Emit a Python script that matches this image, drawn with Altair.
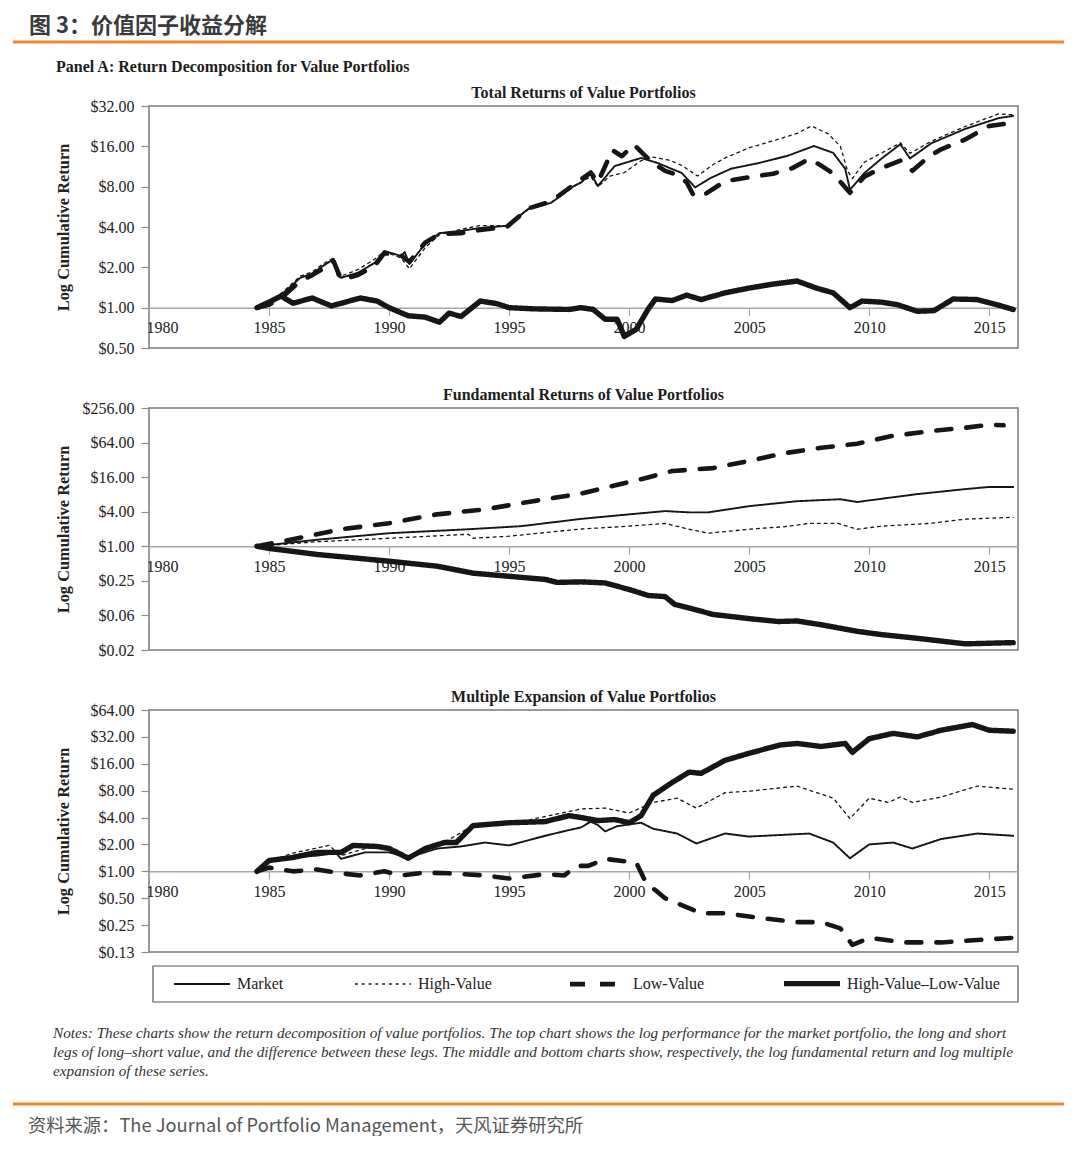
import math
import altair as alt
import pandas as pd

SERIF = "Liberation Serif"
CJK = "Noto Sans CJK SC"
ORANGE = "#EE8A2E"
INK = "#161616"

SERIES = ["Market", "High-Value", "Low-Value", "High-Value–Low-Value"]
DASHES = [[1, 0], [2.8, 4.0], [15, 15], [1, 0]]
WIDTHS = [1.9, 1.3, 4.6, 5.4]
YEAR_TICKS = [1980, 1985, 1990, 1995, 2000, 2005, 2010, 2015]

HEADER = "图 3：价值因子收益分解"
PANEL_LABEL = "Panel A: Return Decomposition for Value Portfolios"
PANEL_TITLES = ["Total Returns of Value Portfolios",
                "Fundamental Returns of Value Portfolios",
                "Multiple Expansion of Value Portfolios"]
NOTES = ["Notes: These charts show the return decomposition of value portfolios. The top chart shows the log performance for the market portfolio, the long and short",
         "legs of long–short value, and the difference between these legs. The middle and bottom charts show, respectively, the log fundamental return and log multiple",
         "expansion of these series."]
SOURCE = "资料来源：The Journal of Portfolio Management，天风证券研究所"

TOTAL_TICKS = [0.5, 1, 2, 4, 8, 16, 32]
FUND_TICKS = [1 / 64, 1 / 16, 0.25, 1, 4, 16, 64, 256]
MULT_TICKS = [0.125, 0.25, 0.5, 1, 2, 4, 8, 16, 32, 64]

# ---- Total returns (year, cumulative value) ----
total_market = [(1984.5, 1.00), (1985.0, 1.08), (1985.6, 1.29), (1986.3, 1.67), (1986.8, 1.80), (1987.25, 2.05),
                (1987.7, 2.31), (1987.85, 1.75), (1988.0, 1.67), (1988.7, 1.82), (1989.4, 2.16), (1989.8, 2.65),
                (1990.5, 2.43), (1990.65, 2.60), (1990.85, 2.12), (1991.5, 2.99), (1992.1, 3.60), (1993.0, 3.74),
                (1993.8, 3.94), (1994.9, 4.08), (1995.8, 5.46), (1996.75, 6.06), (1997.7, 8.10), (1998.0, 8.60),
                (1998.4, 10.0), (1998.7, 8.10), (1999.4, 11.4), (2000.5, 13.1), (2001.2, 12.0), (2001.7, 11.0),
                (2002.2, 10.1), (2002.75, 7.90), (2003.4, 9.30), (2004.25, 10.9), (2005.4, 12.0), (2006.6, 13.6),
                (2007.7, 16.1), (2008.5, 14.3), (2009.0, 10.9), (2009.2, 7.60), (2009.8, 10.1), (2010.5, 12.9),
                (2011.3, 16.6), (2011.7, 13.0), (2012.6, 16.9), (2014.0, 21.6), (2015.4, 26.0), (2016.0, 27.0)]
total_high = [(1984.5, 1.00), (1985.0, 1.10), (1985.6, 1.32), (1986.3, 1.72), (1986.8, 1.85), (1987.25, 2.12),
              (1987.7, 2.36), (1987.85, 1.80), (1988.0, 1.72), (1988.7, 1.92), (1989.4, 2.30), (1989.8, 2.62),
              (1990.5, 2.35), (1990.85, 1.95), (1991.5, 2.80), (1992.1, 3.50), (1993.0, 3.85), (1993.8, 4.10),
              (1994.9, 4.10), (1995.8, 5.40), (1996.75, 6.10), (1997.7, 8.00), (1998.4, 9.50), (1998.7, 8.00),
              (1999.2, 9.60), (1999.8, 10.2), (2000.5, 12.5), (2001.0, 13.3), (2001.7, 12.6), (2002.2, 11.5),
              (2002.85, 9.60), (2003.5, 11.7), (2004.0, 13.1), (2005.0, 15.6), (2006.0, 17.6), (2007.0, 20.0),
              (2007.6, 22.7), (2008.3, 19.8), (2008.8, 16.0), (2009.1, 10.5), (2009.3, 9.20), (2009.8, 12.2),
              (2010.5, 14.2), (2011.3, 17.0), (2011.7, 14.2), (2012.6, 17.5), (2014.0, 22.5), (2015.4, 28.0),
              (2016.0, 27.5)]
total_low = [(1984.5, 1.00), (1985.0, 1.05), (1985.6, 1.22), (1986.3, 1.58), (1986.8, 1.75), (1987.25, 1.95),
             (1987.7, 2.20), (1988.0, 1.62), (1988.7, 1.75), (1989.4, 2.05), (1989.8, 2.55), (1990.5, 2.45),
             (1990.85, 2.20), (1991.5, 3.05), (1992.1, 3.55), (1993.0, 3.60), (1993.8, 3.80), (1994.9, 4.00),
             (1995.8, 5.50), (1996.75, 6.20), (1997.7, 8.30), (1998.4, 10.2), (1998.7, 8.60), (1999.3, 15.0),
             (1999.7, 13.5), (2000.2, 16.5), (2000.6, 14.0), (2001.0, 12.0), (2001.5, 10.5), (2002.0, 9.80),
             (2002.4, 8.60), (2002.7, 6.80), (2003.2, 7.10), (2004.0, 8.80), (2005.0, 9.40), (2006.0, 10.0),
             (2006.8, 11.0), (2007.5, 12.9), (2008.0, 11.5), (2008.5, 10.0), (2009.2, 7.20), (2009.8, 9.50),
             (2010.5, 11.0), (2011.3, 12.5), (2011.8, 10.5), (2012.5, 13.5), (2013.0, 15.2), (2014.0, 18.0),
             (2015.0, 22.7), (2016.0, 24.0)]
total_hml = [(1984.5, 1.00), (1985.0, 1.10), (1985.5, 1.22), (1986.0, 1.08), (1986.8, 1.18), (1987.6, 1.03),
             (1988.8, 1.18), (1989.5, 1.12), (1990.0, 1.00), (1990.8, 0.87), (1991.5, 0.85), (1992.1, 0.78),
             (1992.5, 0.91), (1993.0, 0.86), (1993.8, 1.12), (1994.5, 1.07), (1995.0, 1.00), (1996.0, 0.98),
             (1997.5, 0.97), (1998.0, 1.00), (1998.5, 0.97), (1999.0, 0.82), (1999.5, 0.82), (1999.8, 0.61),
             (2000.3, 0.69), (2000.8, 0.98), (2001.1, 1.16), (2001.8, 1.13), (2002.4, 1.24), (2003.0, 1.15),
             (2004.0, 1.29), (2005.0, 1.40), (2006.0, 1.50), (2007.0, 1.58), (2007.8, 1.40), (2008.5, 1.29),
             (2009.2, 1.00), (2009.7, 1.12), (2010.5, 1.10), (2011.2, 1.05), (2012.0, 0.94), (2012.7, 0.95),
             (2013.5, 1.16), (2014.5, 1.15), (2015.5, 1.03), (2016.0, 0.97)]

# ---- Fundamental returns ----
fund_market = [(1984.5, 1.00), (1987.0, 1.30), (1990.0, 1.69), (1993.3, 1.98), (1995.5, 2.24), (1998.0, 3.00),
               (2000.0, 3.60), (2001.5, 4.10), (2002.5, 3.90), (2003.3, 3.90), (2005.0, 5.00), (2007.0, 6.10),
               (2008.8, 6.60), (2009.5, 5.90), (2010.0, 6.30), (2012.0, 8.10), (2014.0, 9.90), (2015.0, 10.8),
               (2016.0, 10.8)]
fund_high = [(1984.5, 1.00), (1987.0, 1.20), (1990.0, 1.38), (1993.3, 1.62), (1993.5, 1.38), (1995.0, 1.50),
             (1998.0, 2.00), (2000.0, 2.24), (2001.5, 2.50), (2002.5, 1.98), (2003.3, 1.69), (2005.0, 1.98),
             (2006.5, 2.20), (2007.5, 2.50), (2008.7, 2.50), (2009.5, 1.98), (2010.5, 2.24), (2012.5, 2.50),
             (2014.0, 2.97), (2016.0, 3.20)]
fund_low = [(1984.5, 1.00), (1986.0, 1.33), (1988.0, 1.98), (1990.0, 2.52), (1992.0, 3.60), (1994.0, 4.40),
            (1996.0, 6.10), (1998.0, 8.30), (1999.3, 11.2), (2000.7, 15.5), (2001.8, 20.5), (2003.5, 23.0),
            (2005.0, 30.7), (2006.5, 42.0), (2008.0, 52.0), (2009.5, 61.0), (2011.0, 84.0), (2012.7, 103.0),
            (2014.0, 116.0), (2015.0, 131.0), (2015.6, 128.0)]
fund_hml = [(1984.5, 1.00), (1985.0, 0.92), (1987.0, 0.72), (1990.0, 0.55), (1992.0, 0.45), (1993.5, 0.34),
            (1995.0, 0.30), (1996.5, 0.265), (1997.0, 0.235), (1998.0, 0.24), (1999.0, 0.23), (2000.0, 0.177),
            (2000.8, 0.139), (2001.5, 0.133), (2001.9, 0.097), (2002.6, 0.082), (2003.5, 0.065), (2005.0, 0.055),
            (2006.2, 0.049), (2007.0, 0.050), (2008.0, 0.043), (2009.5, 0.033), (2010.5, 0.029), (2012.0, 0.025),
            (2014.0, 0.020), (2016.0, 0.021)]

# ---- Multiple expansion ----
mult_market = [(1984.5, 1.00), (1985.0, 1.30), (1986.0, 1.43), (1987.0, 1.50), (1987.8, 1.60), (1988.0, 1.38),
               (1989.0, 1.63), (1990.0, 1.63), (1990.8, 1.43), (1992.0, 1.80), (1993.0, 1.90), (1994.0, 2.10),
               (1995.0, 1.95), (1996.5, 2.50), (1997.5, 2.90), (1998.0, 3.10), (1998.4, 3.60), (1998.7, 3.30),
               (1999.0, 2.80), (1999.5, 3.20), (2000.5, 3.50), (2001.0, 3.00), (2002.0, 2.65), (2002.8, 2.05),
               (2004.0, 2.65), (2005.0, 2.45), (2007.5, 2.65), (2008.5, 2.10), (2009.2, 1.40), (2010.0, 2.00),
               (2011.0, 2.10), (2011.8, 1.80), (2013.0, 2.30), (2014.5, 2.65), (2016.0, 2.50)]
mult_high = [(1984.5, 1.00), (1985.0, 1.30), (1986.0, 1.60), (1987.5, 1.95), (1988.0, 1.50), (1989.0, 1.80),
             (1990.0, 1.90), (1990.8, 1.50), (1992.0, 1.90), (1993.5, 3.25), (1995.5, 3.60), (1998.0, 5.00),
             (1999.0, 5.10), (2000.0, 4.50), (2001.0, 5.90), (2002.0, 6.60), (2002.8, 5.10), (2004.0, 7.60),
             (2005.0, 7.90), (2007.0, 9.00), (2008.5, 6.60), (2009.2, 3.90), (2010.0, 6.60), (2010.8, 5.90),
             (2011.3, 6.80), (2011.8, 5.90), (2013.0, 6.80), (2014.5, 9.00), (2016.0, 8.30)]
mult_low = [(1984.5, 1.00), (1985.0, 1.10), (1986.0, 1.00), (1987.0, 1.05), (1988.0, 0.95), (1988.8, 0.90),
            (1989.8, 1.00), (1990.5, 0.90), (1991.5, 0.97), (1992.5, 0.95), (1994.0, 0.90), (1995.0, 0.83),
            (1996.5, 0.93), (1997.3, 0.90), (1997.8, 1.15), (1998.3, 1.15), (1999.0, 1.38), (2000.3, 1.25),
            (2000.7, 0.75), (2001.5, 0.50), (2003.0, 0.34), (2004.0, 0.34), (2005.5, 0.30), (2007.0, 0.27),
            (2008.0, 0.27), (2008.8, 0.23), (2009.3, 0.15), (2010.0, 0.18), (2011.5, 0.16), (2013.0, 0.16),
            (2014.5, 0.17), (2016.0, 0.18)]
mult_hml = [(1984.5, 1.00), (1985.0, 1.32), (1986.0, 1.43), (1987.0, 1.63), (1988.0, 1.63), (1988.5, 1.95),
            (1989.5, 1.90), (1990.0, 1.80), (1990.8, 1.40), (1991.5, 1.80), (1992.3, 2.10), (1992.8, 2.10),
            (1993.5, 3.25), (1995.0, 3.50), (1996.5, 3.60), (1997.5, 4.20), (1998.0, 4.00), (1998.7, 3.70),
            (1999.4, 3.80), (2000.0, 3.50), (2000.5, 4.20), (2001.0, 7.10), (2001.8, 9.90), (2002.5, 12.9),
            (2003.0, 12.5), (2004.0, 17.5), (2005.0, 21.0), (2006.3, 26.0), (2007.0, 27.0), (2008.0, 25.0),
            (2009.0, 27.0), (2009.3, 21.5), (2010.0, 30.5), (2011.0, 35.0), (2012.0, 32.0), (2013.0, 38.0),
            (2014.3, 44.0), (2015.0, 38.0), (2016.0, 37.0)]

W = 869
H = 242

LEGEND = alt.Legend(title=None, orient="none", legendX=22, legendY=913.5, direction="horizontal",
                    columns=4, columnPadding=68, symbolType="stroke", symbolSize=3136,
                    symbolStrokeColor=INK, labelFont=SERIF, labelFontSize=16, labelColor="#222",
                    labelOffset=4, labelLimit=400)


def table(series_lists):
    rows = []
    for name, pts in zip(SERIES, series_lists):
        for t, v in pts:
            rows.append({"t": t, "v": v, "series": name})
    return pd.DataFrame(rows)


def panel(title, series_lists, ticks):
    lo, hi = ticks[0], ticks[-1]
    one_off = -H * math.log(1 / lo) / math.log(hi / lo)
    lines = alt.Chart(table(series_lists)).mark_line(
        color=INK, strokeCap="round", strokeJoin="round"
    ).encode(
        x=alt.X("t:Q", scale=alt.Scale(domain=[1980, 2016.2], nice=False, zero=False),
                axis=alt.Axis(values=YEAR_TICKS, format="d", offset=one_off, labelFlush=True,
                              labelFlushOffset=3, title=None,
                              grid=False, domainColor="#a8a8a8", domainWidth=1.5, tickColor="#a8a8a8",
                              tickWidth=1.2, tickSize=8, labelPadding=4, labelFont=SERIF, labelFontSize=16,
                              labelColor="#222")),
        y=alt.Y("v:Q", scale=alt.Scale(type="log", base=2, domain=[lo, hi], nice=False),
                axis=alt.Axis(values=ticks, format="$,.2f", title="Log Cumulative Return", titleFont=SERIF,
                              titleFontSize=16.4, titleFontWeight="bold", titleColor="#222", titleX=-86,
                              titleY=H / 2, titleAngle=270, titleAlign="center", titleBaseline="middle",
                              domain=False, grid=False, tickColor="#8c8c8c", tickSize=8, tickWidth=1.2,
                              labelPadding=7, labelFont=SERIF, labelFontSize=16, labelColor="#222")),
        strokeDash=alt.StrokeDash("series:N", scale=alt.Scale(domain=SERIES, range=DASHES), legend=LEGEND),
        strokeWidth=alt.StrokeWidth("series:N", scale=alt.Scale(type="ordinal", domain=SERIES, range=WIDTHS),
                                    legend=LEGEND),
    )
    ttl = alt.Chart(pd.DataFrame({"label": [title]})).mark_text(
        font=SERIF, fontSize=16, fontWeight="bold", color="#1d1d1d", baseline="middle", align="center"
    ).encode(x=alt.value(W / 2), y=alt.value(-13), text="label:N")
    return alt.layer(lines, ttl).properties(
        width=W, height=H, view=alt.ViewBackground(stroke="#7a7a7a", strokeWidth=1.5))


one = pd.DataFrame({"a": [0]})

header = alt.layer(
    alt.Chart(one).mark_rule(color="white", strokeWidth=1).encode(
        x=alt.value(-140), x2=alt.value(-139.5), y=alt.value(-30)),
    alt.Chart(pd.DataFrame({"label": [HEADER]})).mark_text(
        font=CJK, fontSize=22, fontWeight="bold", color="#3a3a3a", align="left", baseline="middle"
    ).encode(x=alt.value(-120), y=alt.value(-13.5), text="label:N"),
    alt.Chart(one).mark_rule(color=ORANGE, strokeWidth=3).encode(
        x=alt.value(-136), x2=alt.value(915), y=alt.value(3)),
    alt.Chart(pd.DataFrame({"label": [PANEL_LABEL]})).mark_text(
        font=SERIF, fontSize=16, fontWeight="bold", color="#1d1d1d", align="left", baseline="middle"
    ).encode(x=alt.value(-93), y=alt.value(28.2), text="label:N"),
).properties(width=W, height=6.7, view=alt.ViewBackground(stroke="transparent"))

footer = alt.layer(
    alt.Chart(one).mark_rect(fill="transparent", stroke="#555555", strokeWidth=1.2).encode(
        x=alt.value(4), x2=alt.value(869), y=alt.value(-46), y2=alt.value(-10)),
    alt.Chart(one).mark_text(
        text=NOTES, font=SERIF, fontSize=15.25, fontStyle="italic", color="#333333", align="left",
        baseline="middle", lineHeight=19
    ).encode(x=alt.value(-96), y=alt.value(21)),
    alt.Chart(one).mark_rule(color=ORANGE, strokeWidth=3).encode(
        x=alt.value(-136), x2=alt.value(915), y=alt.value(92)),
    alt.Chart(pd.DataFrame({"label": [SOURCE]})).mark_text(
        font=CJK, fontSize=18.3, color="#555555", align="left", baseline="middle"
    ).encode(x=alt.value(-121), y=alt.value(115), text="label:N"),
).properties(width=W, height=120, view=alt.ViewBackground(stroke="transparent"))

p1 = panel(PANEL_TITLES[0], [total_market, total_high, total_low, total_hml], TOTAL_TICKS)
p2 = panel(PANEL_TITLES[1], [fund_market, fund_high, fund_low, fund_hml], FUND_TICKS)
p3 = panel(PANEL_TITLES[2], [mult_market, mult_high, mult_low, mult_hml], MULT_TICKS)

chart = alt.vconcat(header, p1, p2, p3, footer, spacing=60, bounds="flush").resolve_scale(
    x="shared", y="independent", strokeDash="shared", strokeWidth="shared"
).properties(padding=0, background="white").configure_view(stroke="transparent")

chart.save("out.html", embed_options={"renderer": "svg", "actions": False})
